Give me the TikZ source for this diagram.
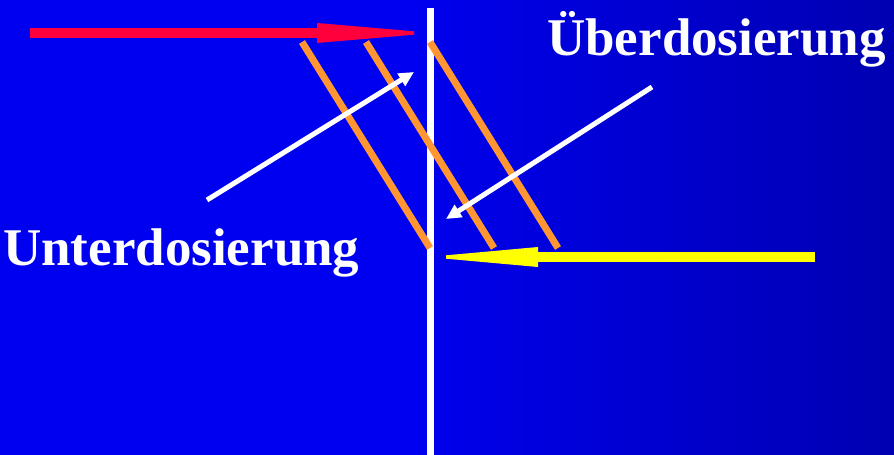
\documentclass[tikz,border=0pt]{standalone}
\usepackage{fontspec}
\setmainfont{Liberation Serif}
\usetikzlibrary{arrows.meta,calc}
\definecolor{deepblue}{RGB}{0,0,240}
\definecolor{darkblue}{RGB}{0,0,178}
\definecolor{beamred}{RGB}{255,0,60}
\definecolor{beamyellow}{RGB}{255,255,0}
\definecolor{layerorange}{RGB}{255,150,50}

\tikzset{
  beam/.style={line width=10pt},
  layer/.style={layerorange, line width=7pt},
  pointer/.style={white, line width=5pt, -{Triangle[length=15pt, width=14pt]}},
  label/.style={white, font=\bfseries\fontsize{53}{60}\selectfont, inner sep=0pt, anchor=base west}
}

\begin{document}
\begin{tikzpicture}[x=1pt, y=-1pt]
  \useasboundingbox (0,0) rectangle (894,455);
  % background
  \fill[deepblue] (0,0) rectangle (430,455);
  \shade[left color=deepblue!92!darkblue, right color=darkblue] (430,0) rectangle (894,455);
  % interface
  \draw[white, line width=7pt] (430,8) -- (430,455);
  % coordinates
  \coordinate (red0) at (30,33);
  \coordinate (redh) at (317,33);
  \coordinate (red1) at (414,33);
  \coordinate (yel0) at (815,257);
  \coordinate (yelh) at (538,257);
  \coordinate (yel1) at (446,257);
  \coordinate (under0) at (207,200);
  \coordinate (under1) at (414,72);
  \coordinate (over0) at (652,87);
  \coordinate (over1) at (446,219);
  % layers
  \foreach \dx in {0,64,128} {
    \draw[layer] (302+\dx,42) -- (430+\dx,248);
  }
  % beams
  \draw[beam, beamred] (red0) -- ($(redh)+(1,0)$);
  \fill[beamred] ($(redh)+(0,-10)$) -- ($(red1)+(0,-1.7)$) -- ($(red1)+(0,1.7)$) -- ($(redh)+(0,10)$) -- cycle;
  \draw[beam, beamyellow] (yel0) -- ($(yelh)+(-1,0)$);
  \fill[beamyellow] ($(yelh)+(0,-10)$) -- ($(yel1)+(0,-1.7)$) -- ($(yel1)+(0,1.7)$) -- ($(yelh)+(0,10)$) -- cycle;
  % pointers
  \draw[pointer] (under0) -- (under1);
  \draw[pointer] (over0) -- (over1);
  % labels
  \node[label] (under) at (3,265) {Unterdosierung};
  \node[label] (over) at (547,55) {Überdosierung};
\end{tikzpicture}
\end{document}
